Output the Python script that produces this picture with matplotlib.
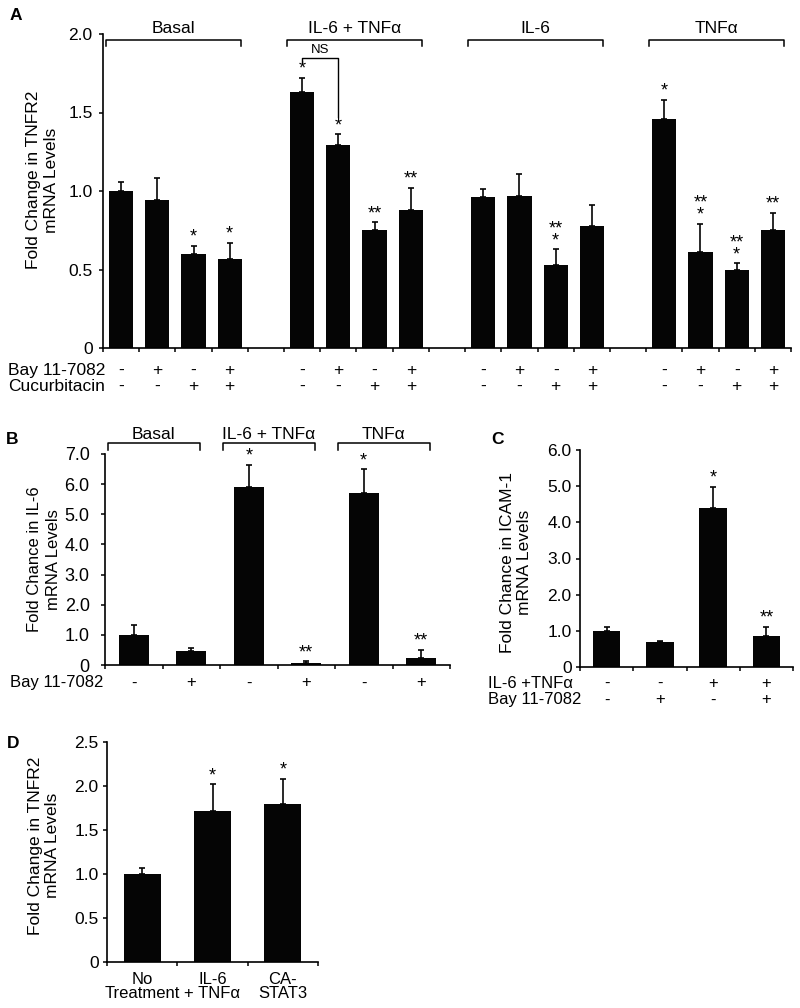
import matplotlib
matplotlib.use('Agg')
import matplotlib.pyplot as plt
import numpy as np

plt.rcParams['font.family'] = ['Liberation Sans', 'DejaVu Sans']

# ---------------- data ----------------
A_groups = ['Basal', 'IL-6 + TNFα', 'IL-6', 'TNFα']
A_values = [1.00, 0.94, 0.60, 0.57,
            1.63, 1.29, 0.75, 0.88,
            0.96, 0.97, 0.53, 0.78,
            1.46, 0.61, 0.50, 0.75]
A_errors = [0.06, 0.14, 0.05, 0.10,
            0.09, 0.07, 0.05, 0.14,
            0.05, 0.14, 0.10, 0.13,
            0.12, 0.18, 0.04, 0.11]
A_sig = ['', '', '*', '*',
         '*', '*', '**', '**',
         '', '', '**\n*', '',
         '*', '**\n*', '**\n*', '**']
A_bay = ['-', '+', '-', '+'] * 4
A_cuc = ['-', '-', '+', '+'] * 4
A_yticks = [0, 0.5, 1.0, 1.5, 2.0]
A_yticklabels = ['0', '0.5', '1.0', '1.5', '2.0']

B_groups = ['Basal', 'IL-6 + TNFα', 'TNFα']
B_values = [1.00, 0.47, 5.90, 0.05, 5.70, 0.23]
B_errors = [0.33, 0.08, 0.75, 0.07, 0.80, 0.28]
B_sig = ['', '', '*', '**', '*', '**']
B_bay = ['-', '+', '-', '+', '-', '+']
B_yticks = [0, 1, 2, 3, 4, 5, 6, 7]
B_yticklabels = ['0', '1.0', '2.0', '3.0', '4.0', '5.0', '6.0', '7.0']

C_values = [1.00, 0.68, 4.40, 0.85]
C_errors = [0.10, 0.05, 0.59, 0.26]
C_sig = ['', '', '*', '**']
C_il = ['-', '-', '+', '+']
C_bay = ['-', '+', '-', '+']
C_yticks = [0, 1, 2, 3, 4, 5, 6]
C_yticklabels = ['0', '1.0', '2.0', '3.0', '4.0', '5.0', '6.0']

D_labels = ['No\nTreatment', 'IL-6\n+ TNFα', 'CA-\nSTAT3']
D_values = [1.00, 1.72, 1.80]
D_errors = [0.07, 0.30, 0.28]
D_sig = ['', '*', '*']
D_yticks = [0, 0.5, 1.0, 1.5, 2.0, 2.5]
D_yticklabels = ['0', '0.5', '1.0', '1.5', '2.0', '2.5']

# ---------------- figure ----------------
W, H = 800, 1008
fig = plt.figure(figsize=(W / 100, H / 100), dpi=100)
BAR = '#050505'
FS = 12.5


def px_axes(x0, y0, x1, y1):
    return fig.add_axes([x0 / W, 1 - y1 / H, (x1 - x0) / W, (y1 - y0) / H])


def style(ax, nslots, ylim, yticks, ylabels, fs, pad):
    ax.set_xlim(-0.5, nslots - 0.5)
    ax.set_ylim(*ylim)
    for s in ['top', 'right']:
        ax.spines[s].set_visible(False)
    for s in ['left', 'bottom']:
        ax.spines[s].set_linewidth(1.2)
    ax.set_yticks(yticks)
    ax.set_yticklabels(ylabels, fontsize=fs)
    ax.set_xticks(np.arange(nslots + 1) - 0.5)
    ax.set_xticklabels([])
    ax.tick_params(axis='both', direction='out', length=3, width=1.1, pad=pad)


def draw_bars(ax, x, vals, errs, width):
    ax.bar(x, vals, width, color=BAR, zorder=2)
    ax.errorbar(x, vals, yerr=[np.zeros(len(errs)), errs], fmt='none',
                ecolor=BAR, elinewidth=1.2, capsize=2.5, capthick=1.2, zorder=3)


def draw_stars(ax, x, vals, errs, sig, fs=13):
    for xi, v, e, s in zip(x, vals, errs, sig):
        if not s:
            continue
        ax.annotate(s, (xi, v + e), xytext=(0, 0),
                    textcoords='offset points', ha='center', va='bottom',
                    multialignment='center', linespacing=0.62,
                    fontsize=fs, annotation_clip=False)


def bracket(ax, x0, x1, ybar, yleg, label, ylab, fs=FS):
    ax.plot([x0, x0, x1, x1], [yleg, ybar, ybar, yleg], color='black',
            lw=1.1, clip_on=False)
    ax.text((x0 + x1) / 2, ylab, label, ha='center', va='center',
            fontsize=fs, clip_on=False)


def sign_rows(ax, x, rows, names, yfrac, name_x=0.0, fs=FS, ls=1.14):
    """rows: list of sign lists (top to bottom); drawn as stacked columns."""
    tr = ax.get_xaxis_transform()
    for i, xi in enumerate(x):
        col = '\n'.join(r[i] for r in rows)
        ax.text(xi, yfrac, col, transform=tr, ha='center', va='center',
                multialignment='center', linespacing=ls, fontsize=fs)
    ax.text(name_x, yfrac, '\n'.join(names), transform=ax.transAxes,
            ha='right', va='center', multialignment='left',
            linespacing=ls, fontsize=fs)


# ---------------- Panel A ----------------
axA = px_axes(103, 34, 791, 348)
style(axA, 19, (0, 2.0), A_yticks, A_yticklabels, FS, 4.5)
xA = np.array([g * 5 + i for g in range(4) for i in range(4)])
draw_bars(axA, xA, A_values, A_errors, 0.67)
draw_stars(axA, xA, A_values, A_errors, A_sig)
for g, name in enumerate(A_groups):
    bracket(axA, g * 5 - 0.42, g * 5 + 3 + 0.3, 1.96, 1.925, name, 2.035)
# NS comparison bracket
axA.plot([xA[4], xA[4], xA[5], xA[5]], [1.82, 1.85, 1.85, 1.47],
         color='black', lw=1.0, clip_on=False)
axA.text((xA[4] + xA[5]) / 2, 1.90, 'NS', ha='center', va='center', fontsize=9.5)
sign_rows(axA, xA, [A_bay, A_cuc], ['Bay 11-7082', 'Cucurbitacin'], -0.097, 0.003)
axA.set_ylabel('Fold Change in TNFR2\nmRNA Levels', fontsize=FS,
               va='center', linespacing=1.3)
axA.yaxis.set_label_coords(-0.088, 0.535)
fig.text(16 / W, 1 - 15 / H, 'A', fontsize=12.5, fontweight='bold',
         ha='center', va='center')

# ---------------- Panel B ----------------
axB = px_axes(105, 454, 450, 665)
style(axB, 6, (0, 7.0), B_yticks, B_yticklabels, 13, 8)
xB = np.arange(6)
draw_bars(axB, xB, B_values, B_errors, 0.52)
draw_stars(axB, xB, B_values, B_errors, B_sig)
for g, name in enumerate(B_groups):
    bracket(axB, g * 2 - 0.45, g * 2 + 1 + 0.15, 7.35, 7.12, name, 7.65)
sign_rows(axB, xB, [B_bay], ['Bay 11-7082'], -0.085, -0.006, fs=12)
axB.set_ylabel('Fold Chance in IL-6\nmRNA Levels', fontsize=12,
               va='center', linespacing=1.3)
axB.yaxis.set_label_coords(-0.177, 0.5)
fig.text(12 / W, 1 - 440 / H, 'B', fontsize=12.5, fontweight='bold',
         ha='center', va='center')

# ---------------- Panel C ----------------
axC = px_axes(580, 450, 793, 667)
style(axC, 4, (0, 6.0), C_yticks, C_yticklabels, FS, 3)
xC = np.arange(4)
draw_bars(axC, xC, C_values, C_errors, 0.52)
draw_stars(axC, xC, C_values, C_errors, C_sig)
sign_rows(axC, xC, [C_il, C_bay], ['IL-6 +TNFα', 'Bay 11-7082'], -0.113, 0.005,
          fs=12, ls=1.15)
axC.set_ylabel('Fold Chance in ICAM-1\nmRNA Levels', fontsize=FS,
               va='center', linespacing=1.15)
axC.yaxis.set_label_coords(-0.30, 0.48)
fig.text(497 / W, 1 - 439 / H, 'C', fontsize=12.5, fontweight='bold',
         ha='center', va='center')

# ---------------- Panel D ----------------
axD = px_axes(107, 742, 318, 962)
style(axD, 3, (0, 2.5), D_yticks, D_yticklabels, FS, 3)
xD = np.arange(3)
draw_bars(axD, xD, D_values, D_errors, 0.53)
draw_stars(axD, xD, D_values, D_errors, D_sig)
axD.set_xticks(xD, minor=True)
axD.set_xticklabels(D_labels, minor=True, fontsize=12, linespacing=0.95)
axD.tick_params(axis='x', which='minor', length=0, pad=7)
axD.set_ylabel('Fold Change in TNFR2\nmRNA Levels', fontsize=FS,
               va='center', linespacing=1.15)
axD.yaxis.set_label_coords(-0.30, 0.53)
fig.text(13 / W, 1 - 743 / H, 'D', fontsize=12.5, fontweight='bold',
         ha='center', va='center')

fig.savefig('out.png', dpi=100)
